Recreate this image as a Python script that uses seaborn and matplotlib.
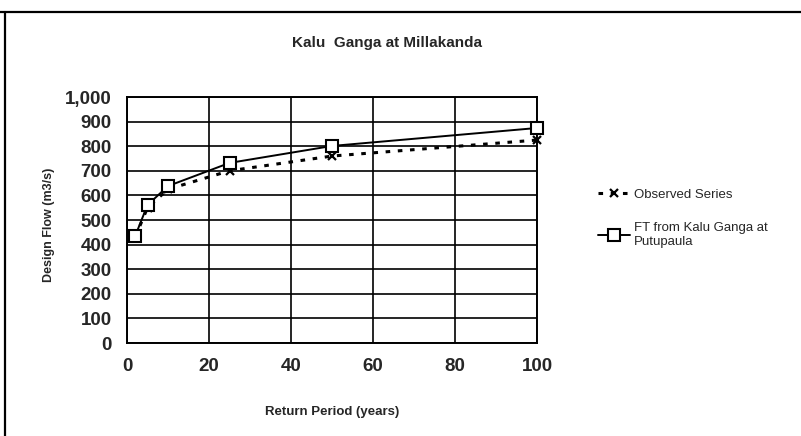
import matplotlib
matplotlib.use("Agg")
import matplotlib.pyplot as plt
from matplotlib.lines import Line2D
from matplotlib.ticker import FuncFormatter, MultipleLocator
import seaborn as sns
import pandas as pd

# Return periods (years) and design flows (m3/s)
return_period = [2, 5, 10, 25, 50, 100]
observed_flow = [430, 550, 625, 700, 760, 825]
ft_flow = [435, 561, 638, 732, 801, 874]

series_observed = "Observed Series"
series_ft = "FT from Kalu Ganga at\nPutupaula"

title_text = "Kalu  Ganga at Millakanda"
x_label = "Return Period (years)"
y_label = "Design Flow (m3/s)"

sns.set_style("white")
plt.rcParams["font.family"] = ["Liberation Sans", "DejaVu Sans"]

df_obs = pd.DataFrame({"period": return_period, "flow": observed_flow})
df_ft = pd.DataFrame({"period": return_period, "flow": ft_flow})

fig = plt.figure(figsize=(8.01, 4.36), dpi=100)
ax = fig.add_axes([127 / 801, 1 - 343 / 436, (537 - 127) / 801, (343 - 97) / 436])

sns.lineplot(data=df_obs, x="period", y="flow", ax=ax, color="black",
             linestyle=(0, (1.5, 2.5)), linewidth=2.2, marker="x",
             markersize=6, markeredgewidth=1.6, markeredgecolor="black",
             label=series_observed, zorder=3, clip_on=False)
sns.lineplot(data=df_ft, x="period", y="flow", ax=ax, color="black",
             linestyle="-", linewidth=1.4, marker="s", markersize=8,
             markerfacecolor="white", markeredgecolor="black",
             markeredgewidth=1.5, label=series_ft, zorder=4, clip_on=False)

ax.set_xlim(0, 100)
ax.set_ylim(0, 1000)
ax.xaxis.set_major_locator(MultipleLocator(20))
ax.yaxis.set_major_locator(MultipleLocator(100))
ax.yaxis.set_major_formatter(FuncFormatter(lambda v, p: f"{int(v):,}"))

ax.grid(True, color="black", linewidth=1.2)
ax.set_axisbelow(True)
for s in ax.spines.values():
    s.set_color("black")
    s.set_linewidth(1.4)

ax.tick_params(axis="both", direction="out", length=5, width=1.2,
               color="black", labelsize=13.5, pad=6)
for lab in ax.get_xticklabels() + ax.get_yticklabels():
    lab.set_fontweight("bold")

ax.set_xlabel(x_label, fontsize=9.5, fontweight="bold", labelpad=22)
ax.set_ylabel(y_label, fontsize=9, fontweight="bold", labelpad=22)
ax.yaxis.set_label_coords(-(127 - 55) / 410, 0.48)

fig.text(387 / 801, 1 - 43 / 436, title_text, ha="center", va="center",
         fontsize=11, fontweight="bold")

ax.get_legend().remove()
handles, labels = ax.get_legend_handles_labels()
fig.legend(handles, labels, loc="upper left",
           bbox_to_anchor=(586 / 801, 1 - 177 / 436), frameon=False,
           fontsize=9.5, handlelength=2.4, handletextpad=0.3,
           labelspacing=1.6)

# Outer frame: top rule and left rule
fig.add_artist(Line2D([0, 1], [1 - 12 / 436, 1 - 12 / 436],
                      transform=fig.transFigure, color="black", linewidth=1.6))
fig.add_artist(Line2D([5 / 801, 5 / 801], [0, 1 - 12 / 436],
                      transform=fig.transFigure, color="black", linewidth=1.6))

fig.savefig("out.png", dpi=100)
